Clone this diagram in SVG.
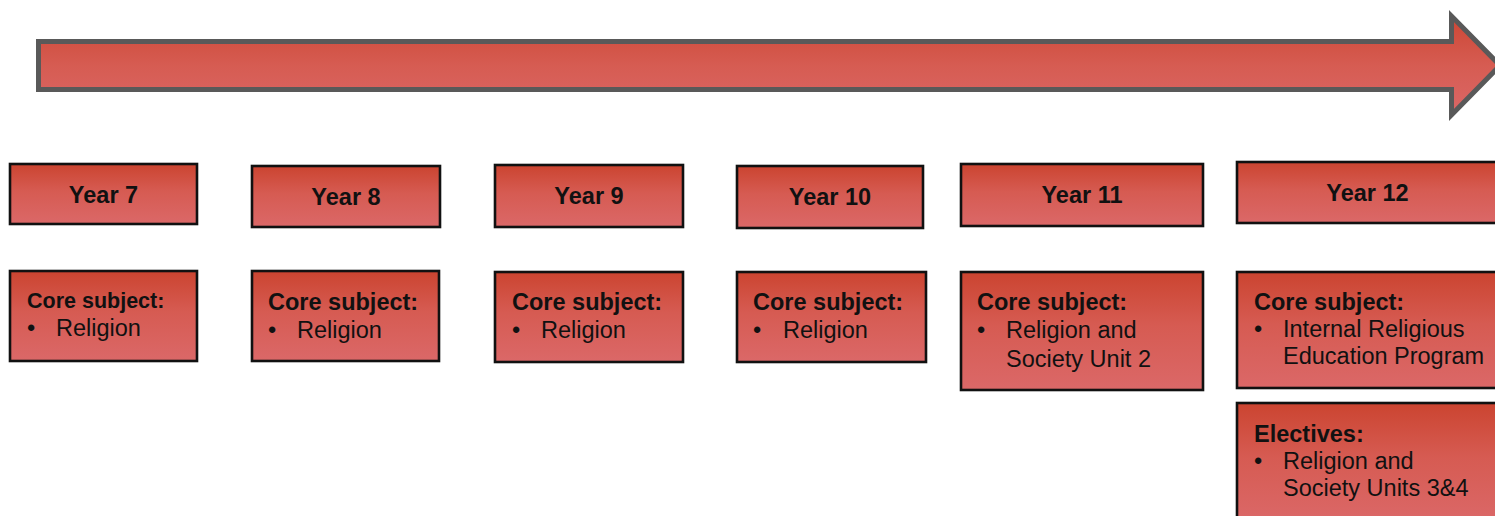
<svg xmlns="http://www.w3.org/2000/svg" width="1495" height="516" viewBox="0 0 1495 516">
<defs>
<linearGradient id="gBox" x1="0" y1="0" x2="0" y2="1">
<stop offset="0" stop-color="#cb4430"/>
<stop offset="0.45" stop-color="#d65b52"/>
<stop offset="1" stop-color="#db6868"/>
</linearGradient>
<linearGradient id="gArrow" gradientUnits="userSpaceOnUse" x1="0" y1="16" x2="0" y2="115">
<stop offset="0" stop-color="#cc4634"/>
<stop offset="0.5" stop-color="#d65c52"/>
<stop offset="1" stop-color="#db6767"/>
</linearGradient>
<style>
.box{fill:url(#gBox);stroke:#111;stroke-width:2.6}
.yr{font-family:"Liberation Sans",Arial,sans-serif;font-weight:bold;font-size:23.5px;fill:#111;text-anchor:middle}
.hd{font-family:"Liberation Sans",Arial,sans-serif;font-weight:bold;font-size:23.5px;fill:#111}
.bd{font-family:"Liberation Sans",Arial,sans-serif;font-size:23.5px;fill:#111}
</style>
</defs>
<g id="timeline-arrow">
<path d="M38.5,41.5 L1451.5,41.5 L1451.5,16 L1500,65.5 L1451.5,115 L1451.5,89.5 L38.5,89.5 Z" fill="url(#gArrow)" stroke="#595959" stroke-width="5" stroke-linejoin="miter"/>
</g>
<g id="connectors"></g>
<g id="year7"><rect class="box" x="10" y="164" width="187" height="60"/><text class="yr" x="103.5" y="203">Year 7</text></g>
<g id="year8"><rect class="box" x="252" y="166" width="188" height="61"/><text class="yr" x="346" y="205">Year 8</text></g>
<g id="year9"><rect class="box" x="495" y="165" width="188" height="62"/><text class="yr" x="589" y="204">Year 9</text></g>
<g id="year10"><rect class="box" x="737" y="166" width="186" height="62"/><text class="yr" x="830" y="205">Year 10</text></g>
<g id="year11"><rect class="box" x="961" y="164" width="242" height="62"/><text class="yr" x="1082" y="203">Year 11</text></g>
<g id="year12"><rect class="box" x="1237" y="162" width="262" height="61"/><text class="yr" x="1367.5" y="201">Year 12</text></g>
<g id="core7"><rect class="box" x="10" y="271" width="187" height="90"/><text class="hd" x="27" y="308" style="font-size:21.5px">Core subject:</text><text class="bd" x="27" y="336">•</text><text class="bd" x="56" y="336">Religion</text></g>
<g id="core8"><rect class="box" x="252" y="271" width="187" height="90"/><text class="hd" x="268" y="310">Core subject:</text><text class="bd" x="268" y="338">•</text><text class="bd" x="297" y="338">Religion</text></g>
<g id="core9"><rect class="box" x="495" y="272" width="188" height="90"/><text class="hd" x="512" y="310">Core subject:</text><text class="bd" x="512" y="338">•</text><text class="bd" x="541" y="338">Religion</text></g>
<g id="core10"><rect class="box" x="737" y="272" width="189" height="90"/><text class="hd" x="753" y="310">Core subject:</text><text class="bd" x="753" y="338">•</text><text class="bd" x="783" y="338">Religion</text></g>
<g id="core11"><rect class="box" x="961" y="272" width="242" height="118"/><text class="hd" x="977" y="310">Core subject:</text><text class="bd" x="977" y="338">•</text><text class="bd" x="1006" y="338">Religion and</text><text class="bd" x="1006" y="367">Society Unit 2</text></g>
<g id="core12"><rect class="box" x="1237" y="272" width="262" height="116"/><text class="hd" x="1254" y="310">Core subject:</text><text class="bd" x="1254" y="337">•</text><text class="bd" x="1283" y="337">Internal Religious</text><text class="bd" x="1283" y="364">Education Program</text></g>
<g id="electives12"><rect class="box" x="1237" y="403" width="262" height="120"/><text class="hd" x="1254" y="442">Electives:</text><text class="bd" x="1254" y="469">•</text><text class="bd" x="1283" y="469">Religion and</text><text class="bd" x="1283" y="496">Society Units 3&amp;4</text></g>
</svg>
